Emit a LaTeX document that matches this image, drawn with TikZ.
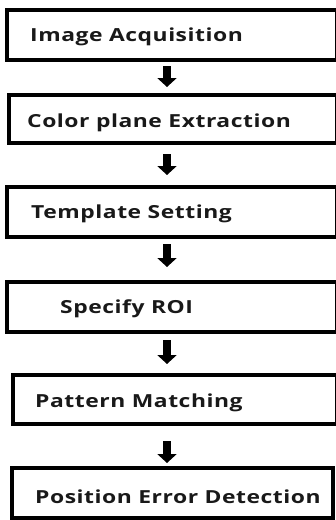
\documentclass[tikz,border=0pt]{standalone}
\usepackage{fontspec}
\newfontfamily\stagefont{Open Sans}[FakeStretch=1.27, LetterSpace=3]
\usetikzlibrary{arrows.meta}

\tikzset{
  stage/.style={draw=black, line width=3.2pt, fill=white, inner sep=0pt, outer sep=0pt},
  stagetext/.style={anchor=base west, inner sep=0pt, font=\stagefont\bfseries\fontsize{18}{20}\selectfont, text=black!90},
  flow/.style={line width=8pt, -{Triangle[width=19pt,length=9pt]}},
}

\begin{document}
\begin{tikzpicture}[x=1pt,y=-1pt]
  \useasboundingbox (0,0) rectangle (336,520);

  % process stages (boxes run off the right margin, as printed)
  \node[stage, minimum width=330pt, minimum height=50pt] (s1) at (172,35) {};
  \node[stage, minimum width=328pt, minimum height=48pt] (s2) at (173,119) {};
  \node[stage, minimum width=330pt, minimum height=50pt] (s3) at (172,212) {};
  \node[stage, minimum width=330pt, minimum height=50pt] (s4) at (172,307) {};
  \node[stage, minimum width=324pt, minimum height=49pt] (s5) at (175,399.5) {};
  \node[stage, minimum width=321pt, minimum height=50pt] (s6) at (172.5,493) {};

  % stage labels
  \node[stagetext] (t1) at (30,41.5) {Image Acquisition};
  \node[stagetext] (t2) at (27,127) {Color plane Extraction};
  \node[stagetext] (t3) at (31,218) {Template Setting};
  \node[stagetext] (t4) at (60,313) {Specify ROI};
  \node[stagetext] (t5) at (35,407) {Pattern Matching};
  \node[stagetext] (t6) at (35,503) {Position Error Detection};

  % block arrows between stages
  \coordinate (ax) at (167,0);
  \draw[flow, shorten <=6pt, shorten >=8pt]  (s1.south -| ax) -- (s2.north -| ax);
  \draw[flow, shorten <=11pt, shorten >=12pt] (s2.south -| ax) -- (s3.north -| ax);
  \draw[flow, shorten <=7pt, shorten >=15pt]  (s3.south -| ax) -- (s4.north -| ax);
  \draw[flow, shorten <=8pt, shorten >=11pt]  (s4.south -| ax) -- (s5.north -| ax);
  \draw[flow, shorten <=17pt, shorten >=5pt]  (s5.south -| ax) -- (s6.north -| ax);
\end{tikzpicture}
\end{document}
